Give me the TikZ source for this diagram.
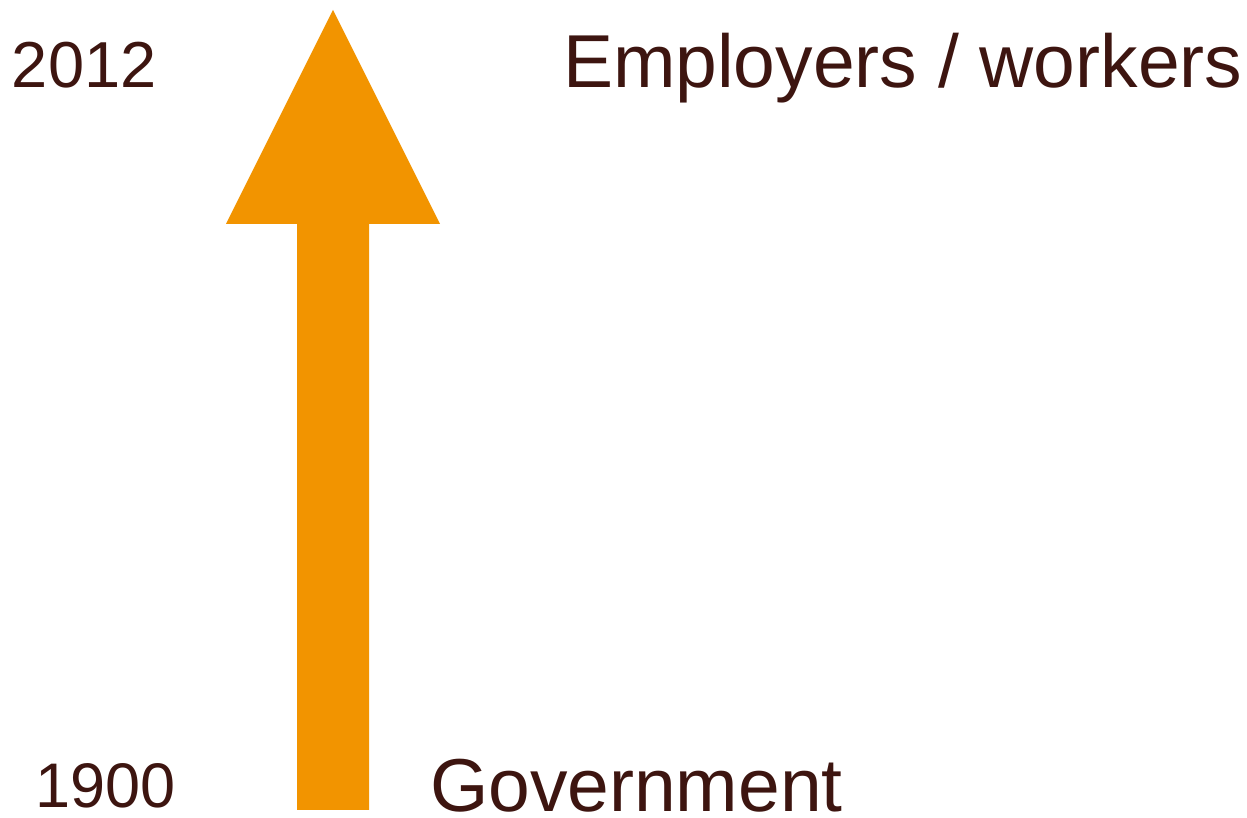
\documentclass[tikz,border=0pt]{standalone}
\usepackage{fontspec}
\setmainfont{Liberation Sans}
\definecolor{txtbrown}{HTML}{3D1510}
\definecolor{arroworange}{HTML}{F29400}
\begin{document}
\begin{tikzpicture}[x=1pt,y=1pt,
  lbl/.style={inner sep=0pt,outer sep=0pt,text=txtbrown,anchor=base west},
  biglbl/.style={lbl,font=\fontsize{75}{75}\selectfont}]
\useasboundingbox (0,0) rectangle (1247,818);
\fill[arroworange] (297,8) -- (369,8) -- (369,594) -- (440,594) -- (333,808) -- (226,594) -- (297,594) -- cycle;
\node[lbl,font=\fontsize{65}{65}\selectfont] (y2012) at (12,730) {2012};
\node[lbl,font=\fontsize{63}{63}\selectfont] (y1900) at (35,10) {1900};
\node[biglbl] (emp) at (563,730) {Employers / workers};
\node[biglbl] (gov) at (430,6) {Government};
\end{tikzpicture}
\end{document}
